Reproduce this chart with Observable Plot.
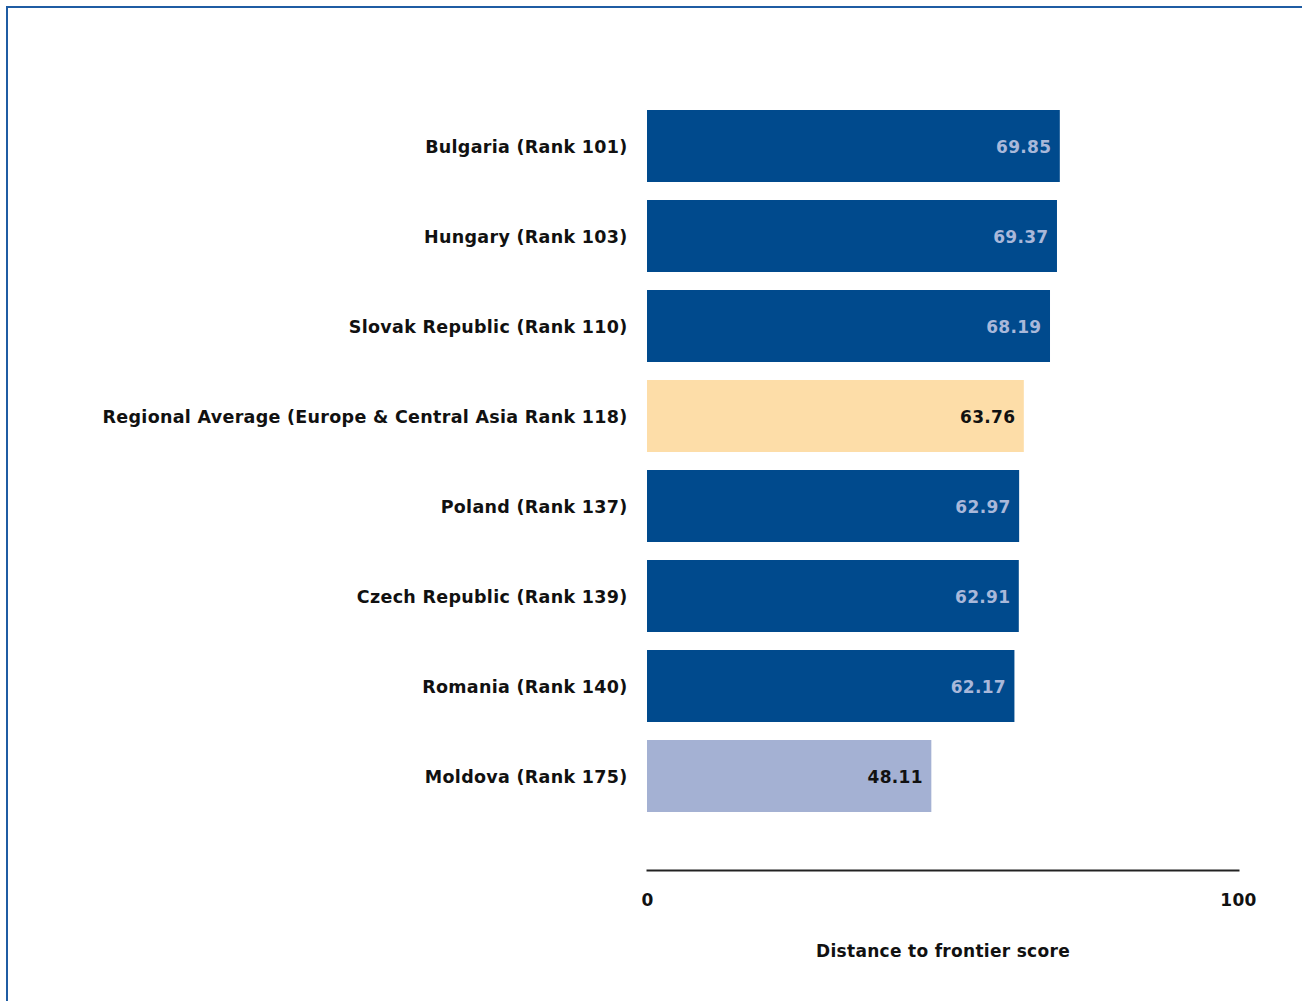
<!DOCTYPE html>
<html>
<head>
<meta charset="utf-8">
<script src="https://cdn.jsdelivr.net/npm/d3@7"></script>
<script src="https://cdn.jsdelivr.net/npm/@observablehq/plot@0.6"></script>
<style>
  html, body { margin: 0; padding: 0; background: #fff; }
  body { width: 1302px; height: 1001px; position: relative; overflow: hidden; }
  #frame { position: absolute; left: 6px; top: 6px; width: 1400px; height: 1100px;
           border-left: 2px solid #1f5ca3; border-top: 2px solid #1f5ca3; }
  #chart { position: absolute; left: 0; top: 0; }
  #chart svg text { font-family: "DejaVu Sans", sans-serif; font-weight: bold; letter-spacing: 0.3px; }
</style>
</head>
<body>
<div id="frame"></div>
<div id="chart"></div>
<script>
const categories = [
  "Bulgaria (Rank 101)",
  "Hungary (Rank 103)",
  "Slovak Republic (Rank 110)",
  "Regional Average (Europe & Central Asia Rank 118)",
  "Poland (Rank 137)",
  "Czech Republic (Rank 139)",
  "Romania (Rank 140)",
  "Moldova (Rank 175)"
];
const scores = [69.85, 69.37, 68.19, 63.76, 62.97, 62.91, 62.17, 48.11];
const groups = ["peer", "peer", "peer", "average", "peer", "peer", "peer", "focus"];
const xTicks = [0, 100];

const data = categories.map((c, i) => ({ name: c, score: scores[i], group: groups[i] }));

const barColor = { peer: "#004a8d", average: "#fddda8", focus: "#a4b1d3" };
const textColor = { peer: "#a9b8da", average: "#111111", focus: "#111111" };

const chart = Plot.plot({
  width: 1302,
  height: 1001,
  marginLeft: 647,
  marginRight: 64,
  marginTop: 101,
  marginBottom: 131,
  style: { fontFamily: "DejaVu Sans, sans-serif", fontSize: "14px", color: "#111" },
  x: { domain: [0, 100] },
  y: { domain: categories, range: [101, 821], paddingInner: 0.2, paddingOuter: 0.1, align: 0.5 },
  marks: [
    Plot.barX(data, { x: "score", y: "name", fill: d => barColor[d.group] }),
    Plot.text(data, {
      x: "score", y: "name", text: d => d.score.toFixed(2), dy: 1,
      textAnchor: "end", dx: -9, fill: d => textColor[d.group], fontSize: 17, fontWeight: "bold"
    }),
    Plot.frame({ anchor: "bottom", stroke: "#222", strokeWidth: 2 }),
    Plot.axisY({ tickSize: 0, tickPadding: 20, fontSize: 17.5, label: null, fill: "#111", dy: 1 }),
    Plot.axisX({
      ticks: xTicks, tickSize: 0, tickPadding: 23, fontSize: 17, tickFormat: d => String(d),
      label: "Distance to frontier score", labelAnchor: "center", labelArrow: "none", labelOffset: 86
    })
  ]
});
document.getElementById("chart").appendChild(chart);
</script>
</body>
</html>
